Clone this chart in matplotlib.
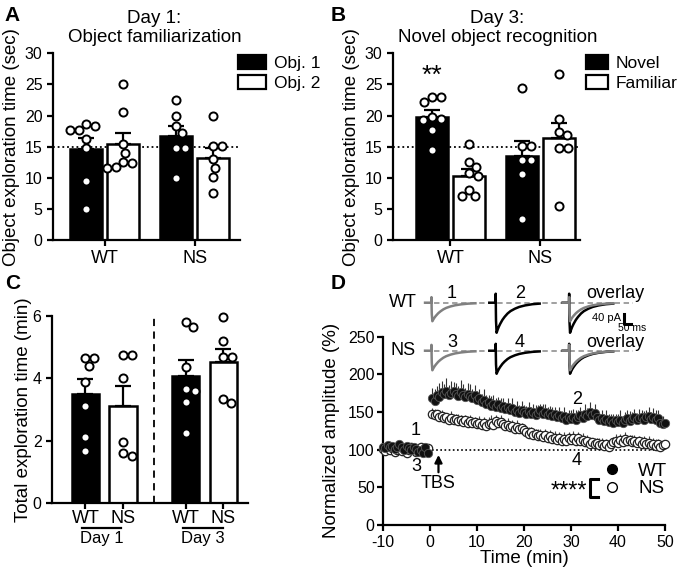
import numpy as np
import matplotlib
matplotlib.use('Agg')
import matplotlib.pyplot as plt
from matplotlib.patches import Patch
from matplotlib.lines import Line2D

plt.rcParams['font.family'] = ['Liberation Sans', 'DejaVu Sans']
plt.rcParams['axes.linewidth'] = 1.6
plt.rcParams['axes.unicode_minus'] = False

# ---- panel A: day 1, object familiarization (sec)
wt_obj1 = [18.6, 17.7, 17.6, 18.3, 16.3, 14.7, 9.4, 4.9]
wt_obj2 = [25.1, 20.6, 15.4, 14.0, 12.3, 11.6, 11.7, 12.6]
ns_obj1 = [22.5, 19.9, 18.3, 17.2, 14.8, 14.8, 10.0]
ns_obj2 = [19.9, 15.1, 15.1, 13.0, 11.6, 10.1, 7.5]

# ---- panel B: day 3, novel object recognition (sec)
wt_novel = [22.9, 22.1, 22.9, 19.3, 19.5, 19.8, 17.6, 14.5]
wt_familiar = [15.4, 12.6, 11.8, 10.7, 10.3, 8.0, 7.0, 7.0]
ns_novel = [24.5, 15.1, 15.1, 12.8, 12.8, 10.6, 3.4]
ns_familiar = [26.7, 19.4, 17.4, 16.9, 14.7, 14.7, 5.4]

# ---- panel C: total exploration time (min)
day1_wt = [4.67, 4.41, 4.67, 3.88, 3.11, 2.13, 1.69]
day1_ns = [4.75, 4.75, 4.03, 1.97, 1.53, 1.60]
day3_wt = [5.66, 5.82, 4.38, 3.61, 3.66, 3.26, 2.26]
day3_ns = [5.98, 5.20, 4.68, 4.68, 3.21, 3.33]

groups = ['WT', 'NS']
chance_level = 15

# ---- panel D: normalized fEPSC amplitude (%), 30 s bins
wt_base = [104, 102, 106, 103, 105, 101, 104, 107, 103, 100,
           105, 102, 99, 104, 101, 97, 100, 95, 103, 96]
wt_post = [168, 165, 172, 170, 176, 174, 178, 172, 175, 178,
           174, 171, 176, 173, 170, 174, 171, 168, 172, 166,
           168, 163, 166, 160, 163, 158, 161, 157, 160, 155,
           158, 154, 156, 152, 155, 150, 153, 149, 152, 150,
           148, 151, 147, 150, 146, 149, 152, 148, 150, 146,
           149, 145, 147, 143, 146, 142, 145, 140, 143, 141,
           144, 140, 143, 146, 142, 148, 145, 150, 146, 149,
           143, 140, 142, 138, 141, 137, 140, 136, 139, 137,
           140, 136, 139, 142, 138, 141, 143, 139, 142, 144,
           140, 143, 145, 141, 144, 139, 142, 136, 134, 135]
ns_base = [101, 98, 103, 99, 102, 97, 100, 104, 98, 101,
           96, 100, 103, 99, 97, 101, 104, 98, 100, 102]
ns_post = [148, 146, 147, 144, 145, 142, 143, 140, 142, 139,
           141, 138, 140, 137, 139, 136, 138, 135, 137, 134,
           136, 133, 135, 132, 134, 136, 133, 138, 135, 137,
           134, 131, 133, 130, 132, 128, 130, 127, 129, 126,
           124, 121, 123, 119, 121, 118, 120, 117, 119, 116,
           118, 114, 116, 113, 115, 111, 114, 112, 115, 113,
           116, 112, 115, 111, 113, 110, 112, 108, 110, 107,
           109, 106, 108, 105, 107, 104, 108, 110, 112, 109,
           113, 110, 114, 111, 113, 110, 112, 109, 111, 108,
           110, 107, 109, 106, 108, 105, 107, 104, 106, 108]
wt_sem_base = [5, 4, 6, 5, 4, 6, 5, 4, 5, 6, 4, 5, 6, 4, 5, 5, 6, 4, 5, 4]
wt_sem_post = [14, 16, 12, 18, 15, 13, 17, 14, 16, 12,
               15, 13, 17, 14, 12, 15, 16, 13, 14, 12,
               13, 11, 14, 12, 10, 13, 11, 12, 10, 13,
               11, 9, 12, 10, 13, 9, 11, 10, 12, 9,
               10, 12, 9, 11, 13, 10, 9, 12, 10, 11,
               9, 12, 10, 8, 11, 9, 12, 10, 9, 11,
               10, 12, 9, 11, 8, 12, 10, 13, 9, 11,
               10, 8, 11, 9, 12, 10, 8, 11, 9, 10,
               12, 9, 11, 10, 13, 9, 11, 10, 12, 9,
               11, 10, 12, 9, 11, 13, 10, 9, 11, 10]
ns_sem_base = [4, 3, 5, 4, 3, 4, 5, 3, 4, 4, 3, 5, 4, 3, 4, 5, 3, 4, 4, 3]
ns_sem_post = [7, 8, 6, 9, 7, 8, 6, 7, 9, 8,
               7, 9, 6, 8, 7, 9, 8, 6, 7, 8,
               9, 7, 8, 6, 9, 10, 7, 8, 6, 9,
               8, 7, 9, 6, 8, 7, 9, 8, 7, 6,
               8, 9, 7, 8, 6, 9, 7, 8, 9, 7,
               8, 6, 9, 7, 8, 7, 9, 6, 8, 7,
               9, 7, 8, 6, 9, 8, 7, 9, 6, 8,
               7, 9, 8, 6, 7, 9, 8, 7, 9, 6,
               8, 7, 9, 8, 6, 9, 7, 8, 7, 9,
               8, 6, 9, 7, 8, 9, 7, 8, 6, 8]

# example EPSC traces (ms, normalized), peak amplitudes (pA)
trace_t = [-45, -2, -1, 0, 1, 5, 12, 20, 30, 45, 60, 80, 100, 130, 160, 200, 250, 300]
trace_shape = [0, 0, 0.3, -0.25, -0.6, -1.0, -0.9, -0.8, -0.7, -0.57, -0.47,
               -0.36, -0.28, -0.2, -0.14, -0.09, -0.05, -0.03]
amp_wt_pre, amp_wt_post = 74, 120
amp_ns_pre, amp_ns_post = 78, 92


def swarm_x(ax, xc, vals, diam):
    trans = ax.transData
    pts = trans.transform(np.column_stack([np.full(len(vals), xc), vals]))
    x0 = pts[0, 0]
    placed = []
    out = np.zeros(len(vals))
    for i in np.argsort(-np.asarray(vals)):
        py = pts[i, 1]
        cands = [0.0]
        for ox, oy in placed:
            dy = abs(py - oy)
            if dy < diam:
                dx = np.sqrt(diam ** 2 - dy ** 2)
                cands += [ox + dx, ox - dx]
        cands.sort(key=abs)
        for c in cands:
            if all((c - ox) ** 2 + (py - oy) ** 2 >= diam ** 2 - 1e-6 for ox, oy in placed):
                break
        placed.append((c, py))
        out[i] = c
    return trans.inverted().transform(np.column_stack([x0 + out, pts[:, 1]]))[:, 0]


def style(ax, labelsize=11.5):
    for s in ['top', 'right']:
        ax.spines[s].set_visible(False)
    ax.tick_params(width=1.6, length=4, labelsize=labelsize)


def bars(ax, series, centers, fills, width):
    for vals, xc, fc in zip(series, centers, fills):
        vals = np.asarray(vals)
        m = vals.mean()
        se = vals.std(ddof=1) / np.sqrt(len(vals))
        ax.bar(xc, m, width, color=fc, edgecolor='black', linewidth=1.8, zorder=2)
        ax.errorbar(xc, m, yerr=[[0], [se]], fmt='none', ecolor='black',
                    elinewidth=1.6, capsize=6, capthick=1.6, zorder=3)
        xs = swarm_x(ax, xc, vals, 9)
        ax.scatter(xs, vals, s=34, facecolor='white', edgecolor='black',
                   linewidth=1.4, zorder=4, clip_on=False)


fig = plt.figure(figsize=(6.79, 5.79), dpi=100)

# ---------------- A, B
axA = fig.add_axes([0.0781, 0.5855, 0.2754, 0.3225])
axB = fig.add_axes([0.5788, 0.5855, 0.2754, 0.3225])
gap = 90 / 37
for ax, xl, series, labels, title, tx in [
        (axA, (-1.39, 3.66), [wt_obj1, wt_obj2, ns_obj1, ns_obj2], ['Obj. 1', 'Obj. 2'],
         'Day 1:\nObject familiarization', 0.543),
        (axB, (-1.55, 3.5), [wt_novel, wt_familiar, ns_novel, ns_familiar], ['Novel', 'Familiar'],
         'Day 3:\nNovel object recognition', 0.559)]:
    ax.set_xlim(*xl)
    ax.set_ylim(0, 30)
    style(ax)
    ax.axhline(chance_level, color='black', lw=1.3, ls=(0, (1, 1.6)), zorder=1)
    bars(ax, series, [-0.5, 0.5, gap - 0.5, gap + 0.5],
         ['black', 'white', 'black', 'white'], 0.85)
    ax.set_xticks([0, gap])
    ax.set_xticklabels(groups, fontsize=13)
    ax.set_yticks(range(0, 31, 5))
    ax.set_ylabel('Object exploration time (sec)', fontsize=13.5)
    ax.yaxis.set_label_coords(-0.176, 0.5)
    ax.text(tx, 1.04, title, transform=ax.transAxes, ha='center', va='bottom',
            fontsize=13.5, linespacing=1.12)
    hl = 1.6 if ax is axA else 1.3
    ax.legend([Patch(facecolor='black', edgecolor='black', lw=1.6),
               Patch(facecolor='white', edgecolor='black', lw=1.6)], labels,
              loc='upper left', bbox_to_anchor=(0.99 if ax is axA else 1.03, 0.99),
              frameon=False, fontsize=12.5, handlelength=hl, handleheight=0.85,
              handletextpad=0.45, labelspacing=0.25, borderpad=0, borderaxespad=0)

axB.text(-0.5, 26.3, '**', ha='center', va='center', fontsize=19)

# ---------------- C
axC = fig.add_axes([0.0766, 0.1307, 0.2887, 0.3235])
axC.set_xlim(-0.89, 4.33)
axC.set_ylim(0, 6)
style(axC)
cC = [0, 1, 2.67, 3.67]
bars(axC, [day1_wt, day1_ns, day3_wt, day3_ns], cC, ['black', 'white', 'black', 'white'], 0.72)
axC.axvline(1.83, color='black', lw=1.3, ls=(0, (4, 3)), zorder=1)
axC.set_xticks(cC)
axC.set_xticklabels(groups * 2, fontsize=13)
axC.tick_params(axis='x', pad=1)
axC.set_yticks([0, 2, 4, 6])
axC.set_ylabel('Total exploration time (min)', fontsize=13.5)
axC.yaxis.set_label_coords(-0.104, 0.5)
tr = axC.get_xaxis_transform()
for x0, x1, lab in [(-0.1, 0.95, 'Day 1'), (2.6, 3.67, 'Day 3')]:
    axC.plot([x0, x1], [-0.13, -0.13], transform=tr, color='black', lw=1.6, clip_on=False)
    axC.text((x0 + x1) / 2, -0.19, lab, transform=tr, ha='center', va='center', fontsize=12)

# ---------------- D
axD = fig.add_axes([0.5641, 0.0933, 0.4153, 0.3252])
axD.set_xlim(-10, 50)
axD.set_ylim(0, 250)
style(axD)
axD.set_xticks(range(-10, 51, 10))
axD.set_yticks(range(0, 251, 50))
axD.tick_params(axis='y', pad=2)
axD.set_xlabel('Time (min)', fontsize=13.5, labelpad=0)
axD.set_ylabel('Normalized amplitude (%)', fontsize=13.5)
axD.yaxis.set_label_coords(-0.152, 0.5)
axD.plot([0.5, 50], [100, 100], color='black', lw=1.2, ls=(0, (1, 1.5)), zorder=1)

t_all = np.concatenate([np.arange(-10, 0, 0.5), np.arange(0.5, 50.01, 0.5)])
ns_y = np.array(ns_base + ns_post)
wt_y = np.array(wt_base + wt_post)
ns_e = np.array(ns_sem_base + ns_sem_post)
wt_e = np.array(wt_sem_base + wt_sem_post)
axD.vlines(t_all, ns_y, ns_y + ns_e, color='#444444', lw=0.8, zorder=2)
axD.plot(t_all, ns_y, 'o', ms=6, mfc='white', mec='#222222', mew=0.9, zorder=3, clip_on=False)
axD.vlines(t_all, wt_y, wt_y + wt_e, color='#333333', lw=0.8, zorder=4)
axD.plot(t_all, wt_y, 'o', ms=6, mfc='#111111', mec='#555555', mew=0.6, zorder=5, clip_on=False)

for x, y, s in [(-3, 126, '1'), (-3, 77, '3'), (31.2, 166, '2'), (31.2, 86, '4')]:
    axD.text(x, y, s, ha='center', va='center', fontsize=13)
axD.annotate('', xy=(1.8, 93), xytext=(1.8, 70),
             arrowprops=dict(arrowstyle='-|>', color='black', lw=1.6, shrinkA=0, shrinkB=0,
                             mutation_scale=11))
axD.text(1.8, 55, 'TBS', ha='center', va='center', fontsize=13)
axD.plot([35.8, 34.0, 34.0, 35.8], [61, 61, 37, 37], color='black', lw=2.2, clip_on=False)
axD.text(33.4, 45, '****', ha='right', va='center', fontsize=17)
axD.legend([Line2D([], [], marker='o', ls='none', mfc='black', mec='black', ms=7),
            Line2D([], [], marker='o', ls='none', mfc='white', mec='black', ms=7, mew=1)],
           groups, loc='upper left', bbox_to_anchor=(0.785, 0.33), frameon=False,
           fontsize=13.5, handlelength=0.8, handletextpad=1.0, labelspacing=0.0,
           borderpad=0, borderaxespad=0)

# ---------------- D insets: example traces
offs = [0, 440, 943]
for rect, name, a_pre, a_post, nums in [
        ([0.5817, 0.4214, 0.3903, 0.0812], 'WT', amp_wt_pre, amp_wt_post, ['1', '2']),
        ([0.5817, 0.3385, 0.3903, 0.0812], 'NS', amp_ns_pre, amp_ns_post, ['3', '4'])]:
    axt = fig.add_axes(rect, zorder=6)
    axt.patch.set_alpha(0)
    axt.axis('off')
    axt.set_xlim(-251, 1564)
    axt.set_ylim(-129, 58.8)
    axt.plot([-45, 1378], [0, 0], color='#999999', lw=1.3, ls=(0, (3, 2)))
    shp = np.array(trace_shape)
    tt = np.array(trace_t)
    axt.plot(tt + offs[0], shp * a_pre, color='#808080', lw=1.8)
    axt.plot(tt + offs[1], shp * a_post, color='black', lw=1.8)
    axt.plot(tt + offs[2], shp * a_post, color='black', lw=1.8)
    axt.plot(tt + offs[2], shp * a_pre, color='#808080', lw=1.8)
    ty = 38 if name == 'WT' else 33
    axt.text(-195, 0, name, ha='center', va='center', fontsize=13)
    axt.text(140, ty, nums[0], ha='center', va='center', fontsize=13)
    axt.text(605, ty, nums[1], ha='center', va='center', fontsize=13)
    axt.text(1255, ty, 'overlay', ha='center', va='center', fontsize=13)
    if name == 'WT':
        axt.plot([1317, 1317, 1367], [-45, -85, -85], color='black', lw=2.2, clip_on=False)
        axt.text(1300, -62, '40 pA', ha='right', va='center', fontsize=8)
        axt.text(1372, -101, '50 ms', ha='center', va='center', fontsize=7.5)

for x, y, s in [(0.018, 0.974, 'A'), (0.498, 0.974, 'B'), (0.018, 0.51, 'C'), (0.498, 0.51, 'D')]:
    fig.text(x, y, s, fontsize=15, fontweight='bold', ha='center', va='center')

fig.savefig('out.png', dpi=100)
